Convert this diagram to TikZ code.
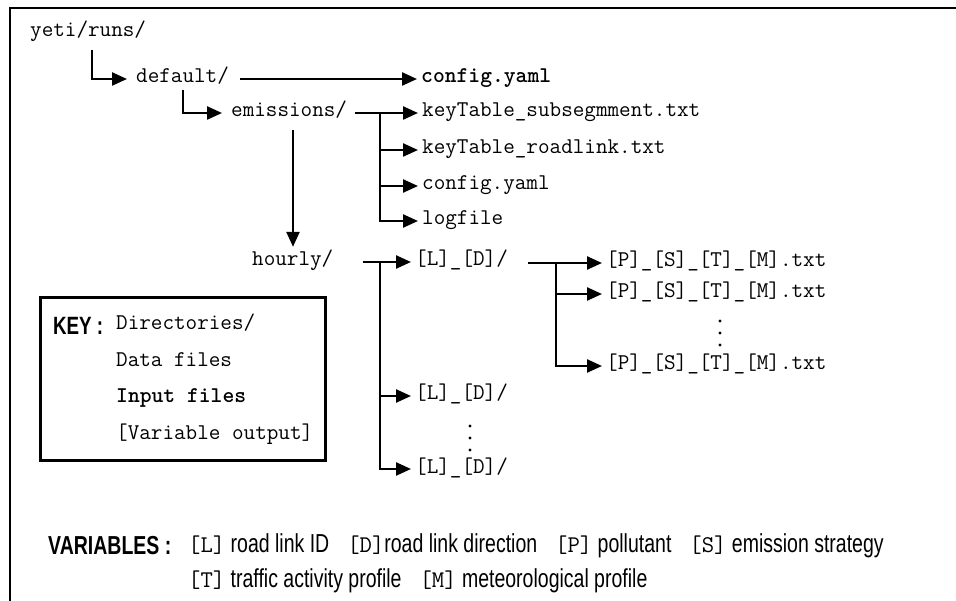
\documentclass[tikz,border=0pt]{standalone}
\usepackage{fontspec}
\newfontfamily\condsans[FakeStretch=0.75]{Liberation Sans}
\usetikzlibrary{arrows.meta,calc}
\newcommand{\mtt}{\fontsize{22.5}{24}\selectfont\ttfamily}
\newcommand{\vtt}{\ttfamily\fontsize{24}{26}\selectfont}
\begin{document}
\begin{tikzpicture}[x=1pt,y=-1pt,
  mono/.style={font=\mtt, inner sep=0pt, anchor=west, text height=11pt, text depth=3pt},
  monob/.style={mono, font=\mtt\bfseries},
  lab/.style={font=\fontsize{25}{28}\selectfont\condsans\bfseries, inner sep=0pt, anchor=west},
  vtxt/.style={font=\fontsize{26}{28}\selectfont\condsans, inner sep=0pt, anchor=west},
  arr/.style={line width=2.4pt, -{Triangle[length=15pt,width=13pt]}, shorten >=4pt},
  frame/.style={line width=2.6pt},
  dot/.style={fill=black},
]
\useasboundingbox (0,0) rectangle (956,601);
\draw[frame] (956,8) -- (10,8) -- (10,601);

% tree nodes
\node[mono] (yr) at (30,33) {yeti/runs/};
\node[mono] (def) at (136,79) {default/};
\node[monob] (cfg1) at (421,79) {config.yaml};
\node[mono] (em) at (231,113) {emissions/};
\node[mono] (kt1) at (422,113) {keyTable\_subsegmment.txt};
\node[mono] (kt2) at (422,150) {keyTable\_roadlink.txt};
\node[mono] (cfg2) at (422,186) {config.yaml};
\node[mono] (log) at (422,221) {logfile};
\node[mono] (hr) at (252,262) {hourly/};
\node[mono] (ld1) at (415,262) {[L]\_[D]/};
\node[mono] (ld2) at (415,396) {[L]\_[D]/};
\node[mono] (ld3) at (415,469) {[L]\_[D]/};
\node[mono] (f1) at (606,263) {[P]\_[S]\_[T]\_[M].txt};
\node[mono] (f2) at (606,294) {[P]\_[S]\_[T]\_[M].txt};
\node[mono] (f3) at (606,366) {[P]\_[S]\_[T]\_[M].txt};

% vertical ellipses
\foreach \yy in {321,333,345} \fill[dot] (720,\yy) circle (1.6pt);
\foreach \yy in {426,438,450} \fill[dot] (470,\yy) circle (1.6pt);

% junction / free-end coordinates
\coordinate (e1) at (92,50);
\coordinate (e2) at (183,90);
\coordinate (d0) at (240,79);
\coordinate (m0) at (355,113);
\coordinate (j1) at (380,113);
\coordinate (j2) at (380,262);
\coordinate (j3) at (556,263);
\coordinate (v1) at (293,130);
\coordinate (h0) at (363,262);
\coordinate (l0) at (528,263);

% connectors
\draw[arr, shorten >=9pt] (e1) |- (def.west);
\draw[arr] (d0) -- (cfg1.west);
\draw[arr, shorten >=9pt] (e2) |- (em.west);
\draw[arr] (m0) -- (kt1.west);
\draw[arr] (j1) |- (kt2.west);
\draw[arr] (j1) |- (cfg2.west);
\draw[arr] (j1) |- (log.west);
\draw[arr, shorten >=8pt] (v1) -- (v1 |- hr.north);
\draw[arr] (h0) -- (ld1.west);
\draw[arr] (j2) |- (ld2.west);
\draw[arr] (j2) |- (ld3.west);
\draw[arr] (l0) -- (f1.west);
\draw[arr] (j3) |- (f2.west);
\draw[arr] (j3) |- (f3.west);

% key box
\node[draw, line width=3pt, minimum width=285pt, minimum height=162pt, inner sep=0pt] (keybox) at (182.5,379) {};
\node[lab] (keylab) at (53,326) {KEY :};
\node[mono] (k1) at (116,326) {Directories/};
\node[mono] (k2) at (116,363) {Data files};
\node[monob] (k3) at (116,399) {Input files};
\node[mono] (k4) at (116,435) {[Variable output]};

% variables
\node[lab, font=\fontsize{26}{28}\selectfont\condsans\bfseries] (varlab) at (48,546) {VARIABLES :};
\node[vtxt] (var1) at (188,546) {{\vtt[L]} road link ID\hspace{18pt}{\vtt[D]}road link direction\hspace{18pt}{\vtt[P]} pollutant\hspace{18pt}{\vtt[S]} emission strategy};
\node[vtxt] (var2) at (188,581) {{\vtt[T]} traffic activity profile\hspace{18pt}{\vtt[M]} meteorological profile};
\end{tikzpicture}
\end{document}
